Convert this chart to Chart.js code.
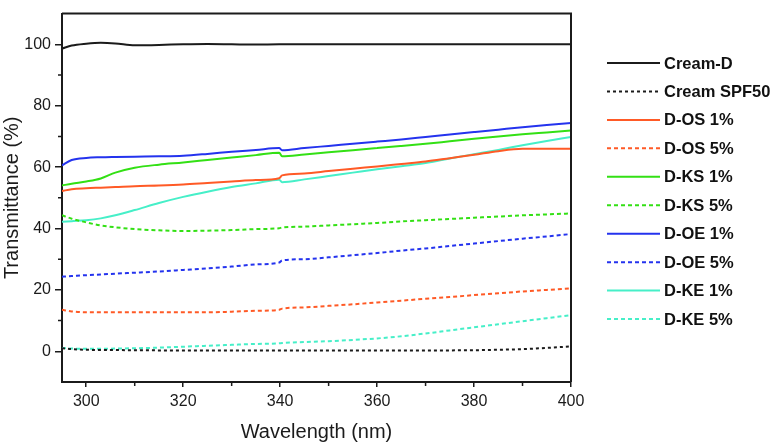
<!DOCTYPE html>
<html>
<head>
<meta charset="utf-8">
<script src="https://cdn.jsdelivr.net/npm/chart.js@4.4.1/dist/chart.umd.min.js"></script>
<style>
  html, body { margin: 0; padding: 0; background: #fff; }
  #wrap { width: 774px; height: 445px; position: relative; }
</style>
</head>
<body>
<div id="wrap"><canvas id="chart"></canvas></div>
<script>
// Wavelength grid (nm) shared by every series
const wavelengths = [295, 297, 300, 303, 306, 310, 315, 320, 325, 330, 335, 339.8, 340.4,
                     345, 350, 355, 360, 365, 370, 375, 380, 385, 390, 395, 400];

// Transmittance (%)
const creamD     = [98.6, 99.6, 100.2, 100.5, 100.3, 99.7, 99.8, 100.0, 100.1, 100.0, 99.9, 100.0, 100.0,
                    100.0, 100.0, 100.0, 100.0, 100.0, 100.0, 100.0, 100.0, 100.0, 100.0, 100.0, 100.0];
const creamSPF50 = [1.0, 0.7, 0.5, 0.4, 0.4, 0.35, 0.3, 0.3, 0.3, 0.3, 0.3, 0.3, 0.3,
                    0.3, 0.3, 0.3, 0.3, 0.3, 0.3, 0.3, 0.35, 0.5, 0.7, 1.1, 1.6];
const dOS1 = [52.2, 52.8, 53.1, 53.3, 53.5, 53.8, 54.0, 54.3, 54.8, 55.3, 55.8, 56.4, 57.3,
              57.9, 58.7, 59.5, 60.2, 61.0, 61.8, 62.9, 64.0, 65.2, 65.95, 66.0, 66.0];
const dOS5 = [13.5, 13.0, 12.7, 12.7, 12.7, 12.7, 12.7, 12.7, 12.7, 12.9, 13.2, 13.5, 13.9,
              14.3, 14.8, 15.3, 15.9, 16.5, 17.1, 17.7, 18.3, 18.9, 19.5, 20.0, 20.5];
const dKS1 = [54.0, 54.6, 55.3, 56.3, 58.2, 59.8, 60.8, 61.5, 62.3, 63.1, 63.9, 64.7, 63.5,
              64.1, 64.8, 65.5, 66.2, 66.9, 67.6, 68.4, 69.2, 70.0, 70.7, 71.3, 71.9];
const dKS5 = [44.3, 43.2, 42.0, 41.0, 40.4, 39.8, 39.4, 39.2, 39.3, 39.5, 39.8, 40.1, 40.3,
              40.6, 41.0, 41.4, 41.8, 42.3, 42.7, 43.1, 43.5, 43.9, 44.3, 44.6, 44.9];
const dOE1 = [60.6, 62.3, 63.0, 63.2, 63.3, 63.4, 63.5, 63.7, 64.3, 65.0, 65.6, 66.2, 65.5,
              66.2, 66.9, 67.6, 68.3, 69.0, 69.8, 70.6, 71.4, 72.2, 73.0, 73.7, 74.4];
const dOE5 = [24.3, 24.5, 24.8, 25.0, 25.3, 25.6, 26.0, 26.5, 27.0, 27.6, 28.3, 28.9, 29.6,
              30.0, 30.6, 31.3, 32.0, 32.8, 33.5, 34.3, 35.1, 35.9, 36.7, 37.4, 38.2];
const dKE1 = [42.2, 42.4, 42.7, 43.3, 44.3, 46.0, 48.3, 50.3, 52.0, 53.5, 54.7, 55.9, 55.1,
              56.0, 57.1, 58.2, 59.3, 60.3, 61.3, 62.8, 64.2, 65.6, 67.1, 68.5, 69.8];
const dKE5 = [1.1, 0.9, 0.8, 0.8, 0.9, 1.0, 1.2, 1.5, 1.8, 2.1, 2.4, 2.6, 2.7,
              3.0, 3.3, 3.7, 4.2, 4.9, 5.8, 6.8, 7.8, 8.8, 9.8, 10.8, 11.8];

const seriesNames = ['Cream-D', 'Cream SPF50', 'D-OS 1%', 'D-OS 5%', 'D-KS 1%',
                     'D-KS 5%', 'D-OE 1%', 'D-OE 5%', 'D-KE 1%', 'D-KE 5%'];
const seriesValues = [creamD, creamSPF50, dOS1, dOS5, dKS1, dKS5, dOE1, dOE5, dKE1, dKE5];

// Axis ticks
const xMajorTicks = [300, 320, 340, 360, 380, 400];
const xMinorTicks = [310, 330, 350, 370, 390];
const yMajorTicks = [0, 20, 40, 60, 80, 100];
const yMinorTicks = [-10, 10, 30, 50, 70, 90];

// Styles
const colors = ['#1b1b1b', '#1b1b1b', '#ff5a26', '#ff5a26', '#33e014', '#33e014',
                '#2433ee', '#2433ee', '#46efc8', '#46efc8'];
const dashes = [[], [3, 3], [], [4, 3], [], [4, 3], [], [4, 3], [], [4, 3]];

Chart.defaults.font.family = "'Liberation Sans', Arial, sans-serif";
Chart.defaults.color = '#1b1b1b';

const datasets = seriesNames.map((name, i) => ({
    label: name,
    data: wavelengths.map((w, j) => ({ x: w, y: seriesValues[i][j] })),
    borderColor: colors[i],
    backgroundColor: colors[i],
    borderDash: dashes[i],
    borderWidth: 2,
    pointRadius: 0,
    cubicInterpolationMode: 'monotone',
    fill: false
}));

// Frame, minor ticks and the legend on the right
const extras = {
    id: 'extras',
    afterDraw(chart) {
        const ctx = chart.ctx;
        const area = chart.chartArea;
        const xs = chart.scales.x;
        const ys = chart.scales.y;
        ctx.save();
        ctx.strokeStyle = '#1b1b1b';
        ctx.lineWidth = 2;
        ctx.beginPath();
        ctx.moveTo(area.left, area.top);
        ctx.lineTo(area.right, area.top);
        ctx.lineTo(area.right, area.bottom);
        ctx.stroke();

        ctx.lineWidth = 1.5;
        ctx.beginPath();
        xMinorTicks.forEach(v => {
            const px = xs.getPixelForValue(v);
            ctx.moveTo(px, area.bottom);
            ctx.lineTo(px, area.bottom + 4);
        });
        yMinorTicks.forEach(v => {
            const py = ys.getPixelForValue(v);
            if (py > area.bottom - 1) return;
            ctx.moveTo(area.left, py);
            ctx.lineTo(area.left - 4, py);
        });
        ctx.stroke();

        // legend
        const x0 = 607, x1 = 660, top = 63, step = 28.45;
        ctx.font = "bold 16.5px 'Liberation Sans', Arial, sans-serif";
        ctx.textBaseline = 'middle';
        ctx.textAlign = 'left';
        chart.data.datasets.forEach((ds, i) => {
            const y = top + i * step;
            ctx.strokeStyle = ds.borderColor;
            ctx.lineWidth = 2;
            ctx.setLineDash(ds.borderDash);
            ctx.beginPath();
            ctx.moveTo(x0, y);
            ctx.lineTo(x1, y);
            ctx.stroke();
            ctx.setLineDash([]);
            ctx.fillStyle = '#111';
            ctx.fillText(ds.label, 664, y + 1);
        });
        ctx.restore();
    }
};

new Chart(document.getElementById('chart'), {
    type: 'line',
    data: { datasets: datasets },
    options: {
        responsive: true,
        maintainAspectRatio: false,
        animation: false,
        layout: { padding: { left: 0, right: 203, top: 3, bottom: 0 } },
        plugins: {
            legend: { display: false },
            tooltip: { enabled: false }
        },
        scales: {
            x: {
                type: 'linear',
                min: 295,
                max: 400,
                afterBuildTicks: scale => { scale.ticks = xMajorTicks.map(v => ({ value: v })); },
                afterFit: scale => { scale.height = 63; },
                border: { color: '#1b1b1b', width: 2 },
                grid: { drawOnChartArea: false, tickLength: 5, color: '#1b1b1b', lineWidth: 1.5 },
                ticks: { font: { size: 16 }, padding: 5, maxRotation: 0 },
                title: { display: true, text: 'Wavelength (nm)', font: { size: 20 }, padding: { top: 0, bottom: 1 } }
            },
            y: {
                type: 'linear',
                min: -10,
                max: 110,
                afterBuildTicks: scale => { scale.ticks = yMajorTicks.map(v => ({ value: v })); },
                afterFit: scale => { scale.width = 62; },
                border: { color: '#1b1b1b', width: 2 },
                grid: { drawOnChartArea: false, tickLength: 7, color: '#1b1b1b', lineWidth: 1.5 },
                ticks: { font: { size: 16 }, padding: 4 },
                title: { display: true, text: 'Transmittance (%)', font: { size: 20 }, padding: { top: 0, bottom: 0 } }
            }
        }
    },
    plugins: [extras]
});
</script>
</body>
</html>
